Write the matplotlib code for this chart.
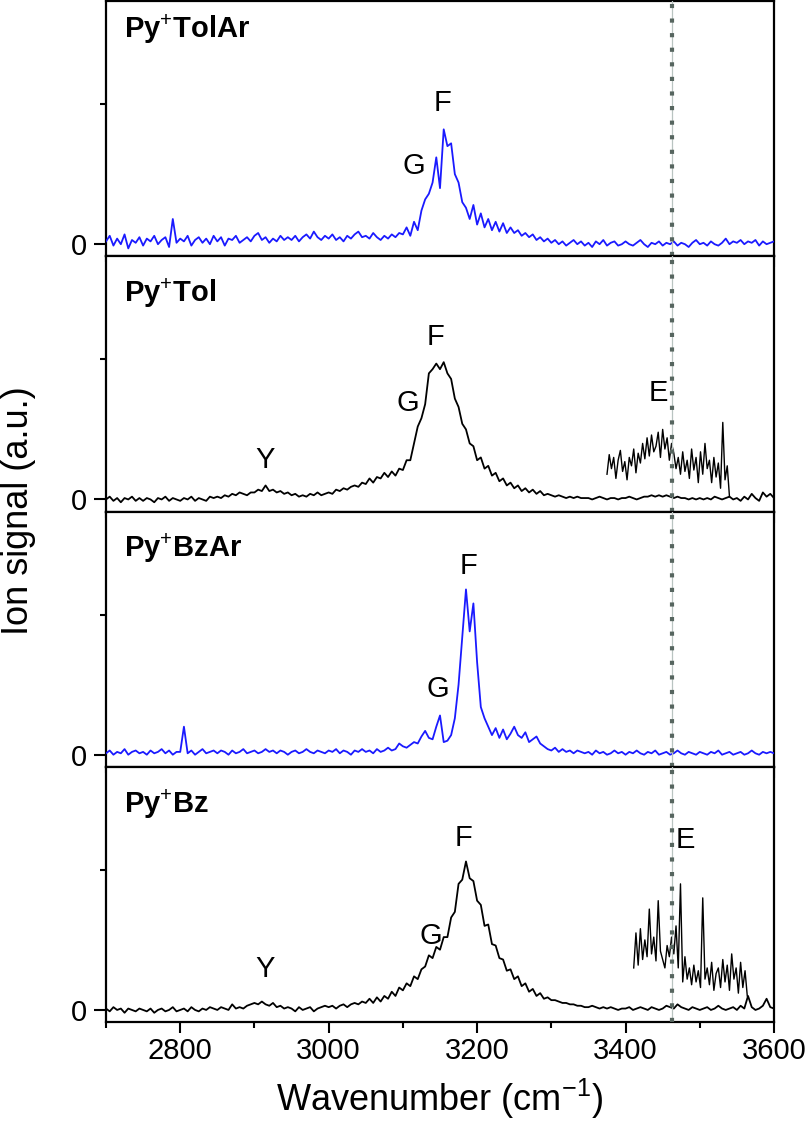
import numpy as np
import matplotlib
matplotlib.use("Agg")
import matplotlib.pyplot as plt
from matplotlib.ticker import MultipleLocator, FixedLocator

plt.rcParams['font.family'] = ['Liberation Sans', 'DejaVu Sans']
plt.rcParams['mathtext.fontset'] = 'custom'
plt.rcParams['mathtext.rm'] = 'Liberation Sans'
plt.rcParams['mathtext.bf'] = 'Liberation Sans:bold'

# ---------------- data (signal in units of 0.01) ----------------
wavenumber = np.arange(2700, 3601, 5)

tolar = [
    2, 6, -1, 4, 0, 7, -3, 3, 1, 5,
    -1, 4, 2, 6, 0, 3, 5, -2, 18, 1,
    4, 2, 6, -1, 3, 5, 1, 4, 0, 6,
    2, 5, -1, 4, 3, 6, 1, 3, 5, 2,
    6, 8, 3, 5, 1, 4, 2, 6, 3, 5,
    3, 6, 2, 5, 7, 4, 9, 5, 3, 6,
    4, 7, 3, 5, 2, 6, 4, 7, 9, 5,
    6, 4, 8, 5, 3, 6, 4, 7, 5, 8,
    7, 12, 6, 16, 10, 24, 32, 36, 44, 62,
    40, 82, 70, 72, 50, 44, 30, 26, 18, 28,
    14, 22, 12, 18, 10, 16, 9, 15, 8, 12,
    8, 10, 6, 8, 5, 7, 3, 5, 2, 4,
    1, 3, 0, 2, -1, 1, 3, 0, 2, -1,
    1, -2, 2, 0, 3, -1, 1, 2, -1, 0,
    2, 0, -1, 1, 3, 0, -2, 1, 0, 2,
    -1, 1, 0, 2, -1, 1, 0, -2, 1, 3,
    0, 1, -1, 2, 0, -1, 1, 4, 0, 2,
    1, 3, 0, 2, 1, 3, -1, 2, 0, 1,
    2]

tol = [
    0, 2, -1, 1, -2, 1, 0, 2, -1, 1,
    -1, 1, 0, -2, 1, 0, 2, -1, 1, 0,
    -1, 1, 0, 2, -1, 1, 0, -1, 2, 1,
    2, 1, 3, 2, 4, 3, 5, 4, 3, 5,
    5, 7, 6, 10, 6, 7, 5, 6, 4, 5,
    3, 4, 2, 3, 2, 4, 3, 5, 3, 4,
    5, 4, 7, 6, 8, 7, 9, 10, 9, 12,
    11, 15, 12, 16, 15, 19, 16, 20, 17, 22,
    21, 28, 28, 40, 52, 58, 68, 90, 93, 97,
    93, 98, 90, 86, 72, 66, 54, 50, 40, 38,
    28, 30, 22, 24, 17, 19, 13, 15, 10, 12,
    8, 10, 6, 8, 5, 7, 4, 6, 3, 4,
    3, 2, 3, 2, 1, 2, 1, 2, 1, 1,
    1, 0, 1, 2, 1, 0, 1, 1, 0, 1,
    1, 2, 1, 0, 1, 2, 2, 3, 2, 3,
    2, 3, 2, 1, 2, 1, 1, 0, 1, 0,
    1, 0, 1, 0, 2, 1, 0, 1, 2, 0,
    1, -1, 2, 0, 4, 1, -1, 5, 2, 4,
    1]

bzar = [
    1, 3, 0, 2, 1, 4, 0, 2, 3, 1,
    2, 0, 3, 1, 2, 4, 1, 3, 0, 2,
    2, 20, 1, 3, 0, 2, 4, 1, 2, 3,
    1, 3, 2, 0, 3, 1, 2, 4, 1, 2,
    3, 1, 2, 4, 2, 3, 1, 3, 2, 0,
    2, 3, 1, 2, 4, 2, 1, 3, 2, 1,
    3, 2, 4, 1, 3, 2, 0, 3, 2, 4,
    2, 3, 1, 4, 2, 3, 5, 3, 4, 8,
    6, 5, 7, 9, 8, 13, 17, 12, 11, 20,
    28, 9, 10, 14, 26, 50, 84, 118, 88, 108,
    66, 34, 26, 20, 14, 19, 12, 18, 11, 15,
    20, 14, 12, 16, 9, 11, 13, 8, 6, 4,
    3, 5, 2, 4, 2, 3, 1, 3, 2, 1,
    2, 0, 3, 1, 2, 0, 1, 3, 1, 2,
    0, 2, 1, 3, 1, 0, 2, 1, 3, 0,
    1, 2, 0, 1, 3, 1, 0, 2, 1, 0,
    2, 1, 0, 2, 1, 3, 0, 1, 2, 0,
    1, 2, 0, 1, 3, 1, 0, 2, 1, 2,
    1]

bz = [
    1, -1, 2, 0, 1, -2, 1, 0, -1, 1,
    0, -1, 1, -2, 0, 1, -1, 0, 2, -1,
    0, 1, -1, 2, 0, -1, 1, 0, 2, 1,
    0, 2, 1, 0, 4, 1, 2, 1, 3, 4,
    5, 4, 6, 4, 3, 5, 2, 3, 1, 2,
    1, -1, 2, 0, 1, 2, -1, 1, 2, 3,
    2, 3, 1, 3, 4, 2, 4, 5, 4, 6,
    5, 8, 5, 9, 6, 10, 8, 13, 10, 16,
    14, 19, 17, 24, 22, 29, 31, 39, 37, 45,
    43, 52, 52, 66, 70, 90, 93, 106, 94, 92,
    78, 75, 60, 61, 47, 46, 37, 36, 28, 29,
    22, 24, 17, 19, 13, 15, 10, 12, 8, 9,
    7, 7, 6, 5, 5, 4, 4, 3, 3, 2,
    2, 3, 2, 1, 2, 1, 2, 1, 0, 1,
    1, 2, 0, 1, 2, 1, 0, 2, 1, 0,
    1, 3, 2, 1, 4, 2, 1, 0, 2, 1,
    0, 1, 2, 0, 1, 3, 1, 0, 1, 2,
    0, 3, 1, 10, 2, 0, 1, 3, 8, 2,
    1]

# enlarged E-band traces
tol_e_wn = np.arange(3375, 3541, 3)
tol_e = [
    18, 32, 22, 30, 15, 28, 35, 20, 27, 14,
    30, 24, 36, 19, 33, 26, 40, 29, 44, 31,
    46, 34, 38, 48, 30, 50, 36, 44, 28, 40,
    33, 22, 30, 18, 34, 20, 28, 15, 36, 21,
    30, 12, 34, 18, 40, 22, 28, 12, 30, 16,
    26, 8, 55, 14, 24, 2]

bz_e_wn = np.arange(3411, 3565, 3)
bz_e = [
    30, 55, 32, 58, 36, 50, 38, 72, 40, 52,
    35, 78, 42, 36, 30, 46, 38, 52, 40, 60,
    30, 90, 20, 38, 22, 30, 18, 32, 20, 28,
    16, 80, 22, 30, 18, 34, 14, 26, 30, 16,
    36, 20, 32, 14, 40, 22, 30, 12, 34, 16,
    28, 10]

titles = ['Py$^{+}$TolAr', 'Py$^{+}$Tol', 'Py$^{+}$BzAr', 'Py$^{+}$Bz']
colors = ['#1a1aff', 'black', '#1a1aff', 'black']
series = [tolar, tol, bzar, bz]

peak_labels = [
    [('F', 3153, 1.01), ('G', 3115, 0.56)],
    [('Y', 2915, 0.28), ('G', 3106, 0.69), ('F', 3144, 1.16), ('E', 3444, 0.76)],
    [('G', 3147, 0.47), ('F', 3188, 1.35)],
    [('Y', 2915, 0.29), ('G', 3137, 0.53), ('F', 3182, 1.23), ('E', 3481, 1.21)],
]
inset_traces = {1: (tol_e_wn, tol_e), 3: (bz_e_wn, bz_e)}
marker_wn = 3462

# ---------------- figure ----------------
fig = plt.figure(figsize=(8.07, 11.25), dpi=100)
gs = fig.add_gridspec(4, 1, left=106/807, right=774/807,
                      top=1 - 1/1125, bottom=1 - 1022/1125, hspace=0)
axes = [fig.add_subplot(gs[i]) for i in range(4)]

title_y = [0.89, 0.855, 0.855, 0.855]

for i, ax in enumerate(axes):
    y = np.array(series[i]) / 100.0
    ax.plot(wavenumber, y, color=colors[i], lw=1.3, zorder=3)
    if i in inset_traces:
        xw, yv = inset_traces[i]
        ax.plot(xw, np.array(yv) / 100.0, color='black', lw=1.0, zorder=3)
    ax.axvline(marker_wn, color='#b9c4c1', lw=0.9, zorder=4)
    ax.axvline(marker_wn, color='#56655f', lw=3.0, linestyle=(0, (1, 2.5)),
               dash_capstyle='butt', zorder=5)
    for txt, xx, yy in peak_labels[i]:
        ax.text(xx, yy, txt, fontsize=21, ha='center', va='center', zorder=6)
    ax.text(0.027, title_y[i], titles[i], transform=ax.transAxes,
            fontsize=21, fontweight='bold', ha='left', va='center',
            math_fontfamily='custom')
    ax.set_xlim(2700, 3600)
    ax.set_ylim(-0.086, 1.736)
    ax.xaxis.set_major_locator(MultipleLocator(200))
    ax.xaxis.set_minor_locator(MultipleLocator(100))
    ax.yaxis.set_major_locator(FixedLocator([0]))
    ax.yaxis.set_minor_locator(FixedLocator([1]))
    ax.tick_params(axis='both', which='major', direction='out', width=1.5,
                   labelsize=21)
    ax.tick_params(axis='x', which='major', length=8, pad=3)
    ax.tick_params(axis='x', which='minor', direction='out', length=4, width=1.5)
    ax.tick_params(axis='y', which='major', length=9, pad=5)
    ax.tick_params(axis='y', which='minor', direction='out', length=4.5, width=1.5)
    ax.tick_params(top=False, right=False, which='both')
    for sp in ax.spines.values():
        sp.set_linewidth(1.6)
    if i < 3:
        ax.tick_params(labelbottom=False)

axes[-1].set_xlabel('Wavenumber (cm$^{-1}$)', fontsize=26, labelpad=8)
fig.text(19/807, 1 - 511/1125, 'Ion signal (a.u.)', rotation=90,
         fontsize=26, ha='center', va='center')

fig.savefig('out.png', dpi=100)
